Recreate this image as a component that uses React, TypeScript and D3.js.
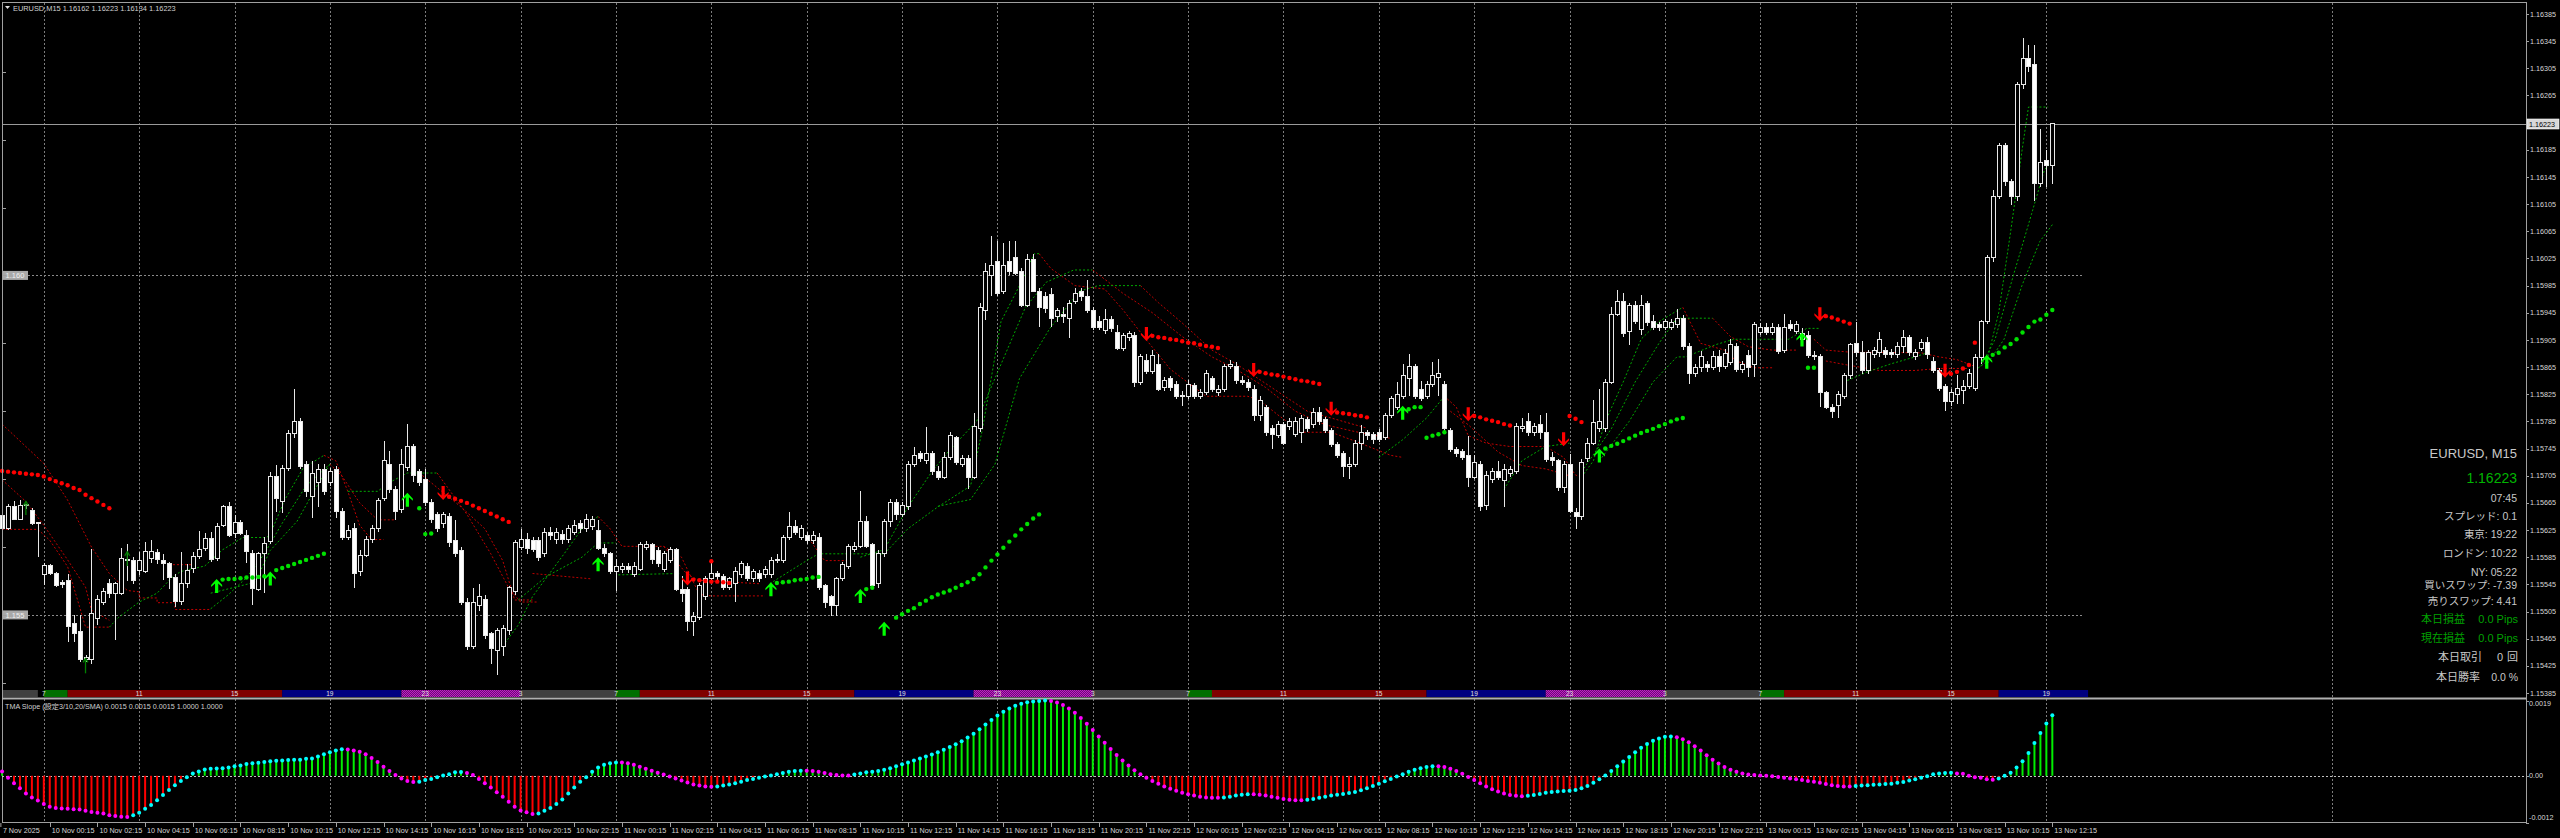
import React from "react";
import * as d3 from "d3";

// prices are kept in points above 1.15000 (1 point = 0.00001)
// bar index 0 = 10 Nov 2025 00:00, M15
type Bar = [number, number, number, number]; // open, high, low, close

const friBars: Bar[] = [
  [647,650,625,627],[627,664,625,659],[660,668,640,641],[641,669,640,661],[661,664,656,662],[654,658,633,635],[636,637,586,635],
];

const mon10Bars: Bar[] = [
  [560,576,544,573],[573,575,559,561],[561,563,541,543],[548,551,540,545],[550,560,460,483],[487,500,460,473],[475,500,430,434],[434,441,431,437],
  [434,597,428,502],[495,530,485,523],[519,540,515,535],[546,553,525,532],[531,548,463,546],[532,598,530,583],[582,605,550,580],[580,586,546,551],
  [566,593,559,580],[564,608,561,593],[583,610,576,593],[592,597,575,581],[580,590,551,575],[576,578,538,555],[555,560,512,520],[520,593,515,546],
  [546,575,540,566],[568,592,562,586],[586,623,582,596],[598,620,594,613],[613,622,578,581],[583,635,580,630],[632,662,630,659],[659,667,615,617],
  [620,647,613,636],[636,640,618,620],[617,625,576,593],[590,595,515,539],[537,592,535,590],[590,615,532,605],[608,711,605,704],[704,721,652,672],
  [667,721,650,716],[716,772,712,767],[767,833,760,785],[785,790,715,719],[722,727,674,682],[674,727,642,709],[695,722,659,714],[714,722,676,682],
  [695,716,690,711],[714,719,643,653],[653,658,611,614],[614,632,610,624],[627,635,540,561],[564,595,558,588],[588,616,585,611],[611,632,606,627],
  [627,672,622,669],[672,756,668,727],[722,742,680,685],[685,690,640,653],[655,745,650,722],[717,781,712,748],[748,751,696,706],[711,715,690,695],
  [700,715,660,665],[665,670,635,640],[648,652,622,627],[635,652,628,648],[645,650,600,606],[610,640,585,590],[595,600,515,519],[519,525,448,454],
  [454,540,450,519],[514,545,506,527],[522,530,465,469],[472,475,427,451],[448,480,411,477],[454,485,440,480],[477,542,470,540],[535,610,530,606],
  [600,627,596,611],[611,620,590,598],[609,615,592,596],[609,615,580,585],[590,628,586,622],[622,630,610,617],[611,628,605,622],[619,625,605,611],
  [611,633,606,627],[622,640,618,632],[635,640,620,627],[627,648,622,640],[630,646,625,640],[624,640,595,598],[598,605,585,590],[590,592,560,564],
];

const tue11Bars: Bar[] = [
  [564,582,535,572],[567,577,562,572],[572,577,562,567],[559,578,556,572],[567,607,564,603],[600,609,595,604],[604,606,575,582],[595,600,570,575],
  [567,594,563,590],[580,600,577,596],[596,598,535,538],[538,558,519,532],[538,541,477,490],[490,505,469,498],[496,547,492,543],[527,557,522,553],
  [553,580,550,561],[561,565,552,556],[556,560,536,540],[540,556,536,553],[546,571,519,564],[559,580,555,575],[572,577,550,553],[553,568,548,564],
  [561,566,548,553],[559,572,554,567],[559,585,555,580],[582,590,576,580],[580,618,576,614],[614,651,610,630],[630,640,618,622],[614,632,610,627],
  [617,622,605,609],[609,624,604,617],[614,620,536,540],[543,546,510,519],[527,530,498,514],[514,556,498,553],[553,578,550,574],[572,605,568,601],
  [596,608,592,601],[601,682,598,637],[637,645,598,601],[603,606,538,543],[546,595,540,590],[590,641,585,637],[637,671,630,666],[666,670,640,648],
  [648,667,644,661],[659,726,655,722],[722,748,718,735],[737,742,725,730],[727,777,722,737],[737,742,706,711],[711,720,698,703],[703,740,700,732],
  [732,769,728,764],[761,764,721,724],[722,735,718,730],[730,735,685,703],[703,798,700,777],[774,960,770,953],[948,1019,935,1006],[1000,1058,970,1014],
  [1021,1050,970,974],[976,1048,972,1014],[1021,1050,1000,1006],[1027,1050,1000,1003],[1006,1011,953,956],[956,1032,953,1024],[1024,1032,975,977],[977,982,924,953],
  [969,975,945,951],[972,982,924,937],[940,952,932,948],[942,953,930,940],[937,964,908,958],[961,982,958,974],[977,982,962,969],[969,993,945,948],
  [948,953,919,924],[932,940,920,924],[919,950,914,935],[935,940,916,922],[916,927,890,893],[893,915,888,911],[908,918,903,914],[911,916,835,843],
  [843,885,838,880],[874,885,855,858],[858,890,855,882],[869,885,830,832],[835,850,830,845],[848,852,830,835],[840,845,818,822],[823,830,808,822],
];

const wed12Bars: Bar[] = [
  [822,846,818,840],[838,842,818,822],[822,832,818,827],[827,860,824,856],[848,852,828,832],[827,838,823,832],[832,870,828,866],[866,875,862,869],
  [866,872,840,845],[845,852,838,843],[843,848,830,835],[832,838,785,793],[793,822,785,816],[806,809,764,769],[774,780,745,766],[764,785,760,780],
  [780,784,750,753],[777,790,773,785],[766,792,762,785],[769,795,753,790],[788,792,770,774],[780,805,776,798],[798,806,780,785],[788,792,768,772],
  [772,776,748,751],[751,755,731,735],[737,742,703,719],[719,732,700,722],[722,758,718,753],[753,780,743,769],[769,772,758,764],[766,770,752,759],
  [769,774,754,759],[761,798,757,793],[793,822,790,819],[806,843,802,824],[822,869,818,853],[848,885,822,866],[866,870,818,822],[832,845,815,819],
  [822,845,818,840],[840,872,835,853],[850,877,822,856],[840,845,769,774],[772,775,740,743],[743,748,733,738],[740,744,728,732],[735,764,688,703],
  [703,735,700,725],[722,727,653,659],[661,712,655,706],[700,716,695,711],[711,727,698,703],[698,722,659,714],[708,720,703,714],[711,782,708,777],
  [774,790,770,777],[785,798,764,769],[769,783,763,777],[780,795,759,769],[769,798,725,729],[732,740,720,727],[727,730,682,688],[688,727,680,722],
  [722,737,650,653],[651,657,627,645],[645,730,640,724],[730,761,725,753],[753,816,750,783],[775,832,770,785],[774,848,770,843],[843,953,840,943],
  [943,979,940,961],[961,974,910,914],[917,960,898,956],[956,962,928,932],[920,971,912,956],[958,962,925,930],[932,942,920,924],[927,932,918,924],
  [924,936,920,932],[924,936,920,930],[927,950,922,937],[937,942,890,895],[895,900,840,856],[856,870,850,864],[864,888,858,880],[869,874,858,864],
  [864,888,860,880],[880,890,858,866],[866,892,862,885],[872,906,868,898],[895,900,858,861],[861,874,856,869],[882,890,850,864],[869,932,850,927],
];

const thu13Bars: Bar[] = [
  [916,930,912,924],[924,930,912,916],[916,930,912,924],[924,928,885,888],[890,943,886,924],[927,935,918,922],[918,933,914,927],[906,922,902,914],
  [911,918,878,882],[880,888,875,882],[880,885,806,827],[827,830,803,806],[806,810,790,800],[808,830,790,824],[822,856,818,853],[853,900,848,898],
  [899,932,880,886],[886,903,855,860],[860,890,855,886],[883,895,878,889],[886,916,880,906],[889,895,878,883],[886,892,878,883],[883,902,878,896],
  [896,919,886,909],[908,912,882,886],[880,892,875,886],[893,906,888,901],[901,910,877,883],[873,880,856,860],[860,863,830,834],[837,840,801,814],
  [814,832,808,827],[824,853,810,834],[830,846,810,837],[837,862,832,856],[834,885,830,879],[879,935,870,932],[932,1030,928,1027],[1027,1126,1020,1116],
  [1116,1195,1113,1192],[1192,1195,1132,1139],[1139,1142,1103,1116],[1116,1285,1110,1281],[1281,1350,1275,1320],[1320,1340,1300,1307],[1310,1340,1110,1136],[1136,1215,1130,1166],
  [1169,1185,1130,1162],[1162,1223,1134,1223],
];

// TMA slope, in units of 0.0001
const friSlope = [1.1,-0.5,-1.9,-3.2,-4.5,-5.5,-6.3];
const mon10Slope = [
  -7.2,-7.9,-8.2,-8.3,-8.4,-8.5,-8.6,-8.9,-9.2,-9.4,
  -9.6,-10.0,-10.2,-10.4,-10.5,-10.0,-9.4,-8.4,-7.4,-6.2,
  -4.9,-3.6,-2.4,-1.3,-0.4,0.6,1.1,1.6,1.8,1.85,
  1.9,2.1,2.4,2.6,3.0,3.2,3.3,3.5,3.7,3.8,
  3.9,4.0,4.05,4.1,4.3,4.4,4.9,5.5,6.0,6.4,
  6.75,6.7,6.4,6.1,5.5,4.5,3.5,2.3,1.2,0.2,
  -0.7,-1.3,-1.6,-1.5,-1.1,-0.8,-0.4,0.1,0.4,0.9,
  0.95,0.7,0.2,-0.8,-1.9,-3.0,-4.2,-5.3,-6.6,-7.9,
  -8.8,-9.3,-9.7,-9.6,-8.9,-8.2,-7.2,-6.0,-4.5,-3.0,
  -1.5,-0.4,1.0,2.1,2.8,3.2,
];
const tue11Slope = [
  3.4,3.4,3.2,2.8,2.3,1.8,1.3,0.8,0.3,-0.2,
  -0.7,-1.2,-1.7,-2.2,-2.5,-2.7,-2.8,-2.7,-2.5,-2.2,
  -1.9,-1.5,-1.1,-0.8,-0.5,-0.2,0.1,0.4,0.7,1.0,
  1.2,1.3,1.3,1.2,1.0,0.7,0.4,0.2,0.1,0.1,
  0.3,0.6,0.9,1.0,1.2,1.5,1.9,2.4,2.9,3.4,
  3.9,4.4,4.9,5.4,6.0,6.6,7.3,8.0,8.8,9.7,
  10.7,11.8,13.0,14.2,15.3,16.3,17.1,17.8,18.3,18.7,
  18.9,19.0,19.1,19.0,18.6,18.0,17.1,16.0,14.7,13.2,
  11.6,10.0,8.4,6.8,5.3,3.9,2.6,1.4,0.4,-0.5,
  -1.3,-2.0,-2.7,-3.3,-3.8,-4.3,
];
const wed12Slope = [
  -4.7,-5.0,-5.3,-5.5,-5.6,-5.6,-5.5,-5.3,-5.0,-4.8,
  -4.7,-4.7,-4.8,-5.0,-5.3,-5.6,-5.9,-6.1,-6.2,-6.2,
  -6.1,-5.9,-5.6,-5.3,-5.0,-4.8,-4.6,-4.4,-4.1,-3.7,
  -3.2,-2.6,-2.0,-1.4,-0.8,-0.2,0.4,1.0,1.5,1.9,
  2.2,2.4,2.4,2.2,1.8,1.2,0.5,-0.3,-1.1,-1.9,
  -2.7,-3.4,-4.0,-4.5,-4.9,-5.1,-5.2,-5.1,-4.9,-4.6,
  -4.3,-4.1,-4.0,-3.9,-3.8,-3.6,-3.2,-2.6,-1.8,-0.9,
  0.1,1.2,2.4,3.6,4.8,6.0,7.1,8.1,8.9,9.5,
  9.9,10.0,9.8,9.3,8.5,7.5,6.4,5.2,4.1,3.1,
  2.2,1.5,1.0,0.6,0.3,0.2,
];
const thu13Slope = [
  0.1,0.0,-0.1,-0.3,-0.5,-0.7,-0.9,-1.1,-1.3,-1.5,
  -1.8,-2.1,-2.4,-2.6,-2.7,-2.7,-2.6,-2.5,-2.4,-2.3,
  -2.2,-2.1,-2.0,-1.8,-1.6,-1.2,-0.9,-0.5,-0.1,0.4,
  0.6,0.7,0.75,0.6,0.5,0.0,-0.4,-0.5,-0.9,-1.0,
  -0.7,0.0,0.8,2.1,3.7,5.8,8.3,10.9,13.3,15.4,
];

// thin dashed trailing lines: [bar index, points]
const redTrails: [number, number][][] = [
  [[-7,781],[0,723],[4,669],[8,600],[11,561],[14,536],[16,534],[16,525],[19,525],[19,518],[22,518],[22,508],[28,508]],
  [[-7,699],[-3,667],[0,632],[4,581],[7,541],[8,507],[11,492]],
  [[-7,626],[-1,626],[1,610],[4,571],[6,512],[7,482],[11,482]],
  [[21,574],[25,574]],
  [[47,735],[49,727],[51,682],[53,632],[55,611],[57,611]],
  [[48,722],[50,705],[53,665],[56,640],[59,640]],
  [[63,709],[70,659],[74,627],[77,580],[79,522],[82,522]],
  [[66,709],[71,648],[75,590],[78,540],[80,519],[83,519]],
  [[82,561],[92,553]],
  [[93,645],[95,627],[97,601],[104,601],[107,585],[110,530],[112,528],[121,528]],
  [[104,601],[108,559],[110,551],[120,546]],
  [[128,617],[131,580],[135,580]],
  [[167,1032],[169,1010],[173,985],[178,980],[181,950],[185,905],[189,862],[195,822],[202,822],[204,816],[207,795],[211,769],[216,769],[220,756],[226,735],[228,732]],
  [[176,1008],[181,974],[186,945],[191,910],[196,880],[200,862],[205,835],[210,800],[215,780],[220,770],[226,760]],
  [[184,985],[187,960],[191,930],[196,890],[200,870],[206,835],[212,800],[218,785],[222,775]],
  [[235,822],[237,806],[239,764],[242,753],[246,748],[252,748],[255,732],[257,706],[258,703]],
  [[236,800],[239,780],[244,740],[248,720],[252,715],[256,705]],
  [[275,953],[278,900],[282,890],[284,874],[287,864],[290,864]],
  [[280,937],[283,910],[286,895],[290,890],[294,890]],
  [[297,906],[299,890],[303,887],[315,886],[318,880],[321,876],[324,866]],
  [[299,874],[302,869],[308,860],[314,860],[318,863],[323,863]],
];
const greenTrails: [number, number][][] = [
  [[11,482],[12.5,496],[16,519],[19,532],[21.6,556],[23,564],[27,572],[30,596],[33.4,614],[37.4,614],[38,619],[40.4,669],[43.5,716],[47,735]],
  [[28,509],[31,530],[34,555],[37,590],[40,635],[44,690],[48,722]],
  [[28,532],[35.4,548],[38,595],[42.5,638],[45.5,685],[48,722]],
  [[51,682],[56,682],[58,695],[61,709],[66,709]],
  [[77,454],[79.6,485],[82,527],[87.3,590],[90.3,627],[93,645]],
  [[79.6,522],[84.2,556],[90.3,585],[93,606],[96,606]],
  [[96.4,559],[106.6,561]],
  [[121.8,546],[128,580],[130,590],[141,590]],
  [[137,585],[141,596],[145,659],[149,711],[152,743],[156.5,785],[160.6,869],[164.7,953],[168.2,990],[172.8,1008],[175.9,1008]],
  [[141,590],[145,627],[150,659],[155.5,690],[157.5,774],[160.6,932],[163.7,985],[166.2,1032],[167.2,1032]],
  [[150,660],[155.5,670],[159.6,722],[163.7,848],[168.8,922],[173.8,977],[176.9,985],[184,985]],
  [[224,732],[228,758],[232,790],[235,822]],
  [[245,685],[248,727],[252,748],[256,753]],
  [[258,703],[260,727],[262,785],[265,843],[268,906],[271,932],[275,953]],
  [[258,711],[263,774],[267,843],[271,900],[274,937],[280,937]],
  [[261,727],[266,785],[270,843],[274,880],[275.5,880],[280.5,898],[283.6,906],[292.8,906],[295.8,922],[297.9,922]],
  [[302,843],[306,858],[310,870],[314,880],[316,886]],
  [[324,860],[326,873],[328,945],[330,1064],[332,1189],[333,1248],[336.3,1248]],
  [[325,866],[327.4,906],[330.4,998],[333.5,1090],[335.7,1156],[337.2,1169]],
  [[325.8,866],[328.9,906],[331.9,985],[334.9,1050],[337.2,1077]],
];

// signal dot runs: [first bar, values]
const redDots: [number, number[]][] = [
  [-7, [712,711,710,709,708,707,706,704,700,697,694,691,687,684,677,672,667,662,657]],
  [68, [674,671,668,665,661,657,653,649,645,641,637]],
  [109, [552,551,550,549,549,548,547]],
  [112, [579]],
  [186, [911,909,908,906,905,903,901,900,898,896,895,893]],
  [204, [858,856,854,853,851,849,847,845,844,842,840]],
  [217, [798,797,796,794,793,791]],
  [240, [793,791,788,786,784,781,779]],
  [256, [793,789,784]],
  [299, [940,938,935,932,929]],
  [320, [855,858,863,868]],
  [324, [901]],
];
const greenDots: [number, number[]][] = [
  [30, [552,553,553,554,555,555,556,557]],
  [39, [566,569,572,575,578,581,584,587,590]],
  [63, [657]],
  [64, [619,620]],
  [123, [547,548,549,551,552,553,555,556]],
  [138, [538,540]],
  [143, [496,501,506,510,516,521,526,530,533,536,540,544,548,553,560,570,580,589,599,608,617,626,634,642,648]],
  [229, [803,806,806]],
  [232, [761,764,766,769]],
  [262, [745,749,752,756,760,764,768,771,774,778,781,785,788,790]],
  [296, [864,864]],
  [327, [883,886,894,899,906,916,924,932,935,942,949]],
];

const upSignals: [number, number][] = [[29,553],[38,564],[61,680],[93,585],[122,548],[137,538],[141,490],[228,808],[261,745],[295,916],[326,883]];
const downSignals: [number, number][] = [[67,690],[108,564],[185,924],[203,871],[216,814],[239,806],[255,769],[298,953],[319,870]];
const smallUpArrows: [number, number, number][] = [[-3,667,647],[7,436,414],[14,593,572]];

const priceTicks = ["1.16385","1.16345","1.16305","1.16265","1.16225","1.16185","1.16145","1.16105","1.16065","1.16025","1.15985","1.15945","1.15905","1.15865","1.15825","1.15785","1.15745","1.15705","1.15665","1.15625","1.15585","1.15545","1.15505","1.15465","1.15425","1.15385"];
const levelLines = [{ p: 1000, label: "1.160" }, { p: 500, label: "1.155" }];
const minorLevels = [400, 500, 600, 700, 800, 900, 1000, 1100, 1200, 1300];

const SES_GREEN = "#006f00", SES_RED = "#800000", SES_BLUE = "#000080", SES_GRAY = "#404040";
const sessions: [number, number, string][] = [
  [-7.3, -1, SES_GRAY],
  [0, 4, SES_GREEN], [4, 40, SES_RED], [40, 60, SES_BLUE], [60, 80, "url(#hatch)"], [80, 96, SES_GRAY],
  [96, 100, SES_GREEN], [100, 136, SES_RED], [136, 156, SES_BLUE], [156, 176, "url(#hatch)"], [176, 192, SES_GRAY],
  [192, 196, SES_GREEN], [196, 232, SES_RED], [232, 252, SES_BLUE], [252, 272, "url(#hatch)"], [272, 288, SES_GRAY],
  [288, 292, SES_GREEN], [292, 328, SES_RED], [328, 343, SES_BLUE],
];
const sessionHours = ["7", "11", "15", "19", "23", "3"];
const gridBars = [0,16,32,48,64,80,96,112,128,144,160,176,192,208,224,240,256,272,288,304,320,336,384];

const infoLines = [
  { t: "EURUSD, M15", y: 458, s: 13, c: "#c8c8c8" },
  { t: "1.16223", y: 483, s: 14, c: "#00b400" },
  { t: "07:45", y: 502, s: 10.5, c: "#c8c8c8" },
  { t: "スプレッド: 0.1", y: 520, s: 10.5, c: "#c8c8c8" },
  { t: "東京: 19:22", y: 538, s: 10.5, c: "#c8c8c8" },
  { t: "ロンドン: 10:22", y: 557, s: 10.5, c: "#c8c8c8" },
  { t: "NY: 05:22", y: 576, s: 10.5, c: "#c8c8c8" },
  { t: "買いスワップ: -7.39", y: 589, s: 10.5, c: "#c8c8c8" },
  { t: "売りスワップ: 4.41", y: 605, s: 10.5, c: "#c8c8c8" },
];

const FONT = "'Liberation Sans', 'Noto Sans CJK JP', sans-serif";

function withIndex(days: Bar[][]) {
  return days.flat().map((b, k) => ({ i: k - 7, o: b[0], h: b[1], l: b[2], c: b[3] }));
}

export default function App() {
  const bars = withIndex([friBars, mon10Bars, tue11Bars, wed12Bars, thu13Bars]);
  const slope = [...friSlope, ...mon10Slope, ...tue11Slope, ...wed12Slope, ...thu13Slope].map((v, k) => ({ i: k - 7, v: v / 10000 }));

  const x = d3.scaleLinear().domain([0, 336]).range([43.8, 43.8 + 5.96 * 336]);
  const y = d3.scaleLinear().domain([385, 1385]).range([693, 14]);
  const yi = d3.scaleLinear().domain([-0.0012, 0.0019]).range([823, 701]);
  const line = d3.line<[number, number]>().x((d) => x(d[0])).y((d) => y(d[1]));

  const t0 = new Date(2025, 10, 10, 0, 0);
  const fmt = d3.timeFormat("%-d %b %H:%M");
  const timeTicks = d3.range(43).map((k) => {
    const i = 1 + 8 * k;
    return { i, label: fmt(d3.timeMinute.offset(t0, 15 * i)) };
  });

  const right = 2526;
  const bidY = y(1223);

  return (
    <svg width={2560} height={838} style={{ position: "absolute", left: 0, top: 0, background: "#000" }} fontFamily={FONT}>
      <defs>
        <pattern id="hatch" width={2} height={2} patternUnits="userSpaceOnUse">
          <rect width={2} height={2} fill="#6a0a78" />
          <rect width={1} height={1} fill="#c020c0" />
          <rect x={1} y={1} width={1} height={1} fill="#c020c0" />
        </pattern>
      </defs>
      <rect width={2560} height={838} fill="#000" />

      {/* vertical grid */}
      {gridBars.map((g) => (
        <line key={"g" + g} x1={Math.round(x(g)) + 0.5} x2={Math.round(x(g)) + 0.5} y1={3} y2={822} stroke="#7c7c7c" strokeDasharray="2,2" />
      ))}

      {/* round level lines */}
      {levelLines.map((lv) => (
        <g key={lv.label}>
          <line x1={28} x2={2082} y1={Math.round(y(lv.p)) + 0.5} y2={Math.round(y(lv.p)) + 0.5} stroke="#8a8a8a" strokeDasharray="2,2" />
          <rect x={2} y={y(lv.p) - 4.5} width={26} height={9} fill="#a8a8a8" />
          <text x={15} y={y(lv.p) + 2.8} fontSize={7.5} fill="#f0f0f0" textAnchor="middle">{lv.label}</text>
        </g>
      ))}
      {minorLevels.map((p) => (
        <line key={"m" + p} x1={2} x2={6} y1={Math.round(y(p)) + 0.5} y2={Math.round(y(p)) + 0.5} stroke="#a0a0a0" />
      ))}

      {/* bid line */}
      <line x1={2} x2={right} y1={Math.round(bidY) + 0.5} y2={Math.round(bidY) + 0.5} stroke="#9a9a9a" />

      {/* trailing lines */}
      {redTrails.map((s, k) => (
        <path key={"rt" + k} d={line(s) || ""} fill="none" stroke="#c00000" strokeWidth={1} strokeDasharray="2,2" />
      ))}
      {greenTrails.map((s, k) => (
        <path key={"gt" + k} d={line(s) || ""} fill="none" stroke="#00a800" strokeWidth={1} strokeDasharray="2,2" />
      ))}

      {/* candles */}
      <g shapeRendering="crispEdges">
        {bars.map((b) => {
          const cx = Math.round(x(b.i));
          const top = y(Math.max(b.o, b.c));
          const bot = y(Math.min(b.o, b.c));
          const bull = b.c >= b.o;
          return (
            <g key={"b" + b.i}>
              <line x1={cx + 0.5} x2={cx + 0.5} y1={y(b.h)} y2={y(b.l)} stroke="#e8e8e8" />
              <rect x={cx - 1.5} y={top} width={4} height={Math.max(1, bot - top)} fill={bull ? "#000" : "#ffffff"} stroke="#e8e8e8" strokeWidth={1} />
            </g>
          );
        })}
      </g>

      {/* signal dots */}
      {redDots.map(([s, vals]) => vals.map((v, k) => <circle key={`rd${s}-${k}`} cx={x(s + k)} cy={y(v)} r={2.2} fill="#ff0000" />))}
      {greenDots.map(([s, vals]) => vals.map((v, k) => <circle key={`gd${s}-${k}`} cx={x(s + k)} cy={y(v)} r={2.2} fill="#00e000" />))}

      {/* arrows */}
      {upSignals.map(([i, p]) => {
        const cx = x(i), t = y(p);
        return <path key={"ua" + i} d={`M${cx},${t} L${cx + 5.5},${t + 6} L${cx + 5.5},${t + 8} L${cx + 1.6},${t + 4.5} L${cx + 1.6},${t + 14} L${cx - 1.6},${t + 14} L${cx - 1.6},${t + 4.5} L${cx - 5.5},${t + 8} L${cx - 5.5},${t + 6} Z`} fill="#00ff00" />;
      })}
      {downSignals.map(([i, p]) => {
        const cx = x(i), t = y(p), b = t + 14;
        return <path key={"da" + i} d={`M${cx},${b} L${cx + 5.5},${b - 6} L${cx + 5.5},${b - 8} L${cx + 1.6},${b - 4.5} L${cx + 1.6},${t} L${cx - 1.6},${t} L${cx - 1.6},${b - 4.5} L${cx - 5.5},${b - 8} L${cx - 5.5},${b - 6} Z`} fill="#ff0000" />;
      })}
      {smallUpArrows.map(([i, pt, pb]) => {
        const cx = x(i), t = y(pt), b = y(pb);
        return (
          <g key={"sa" + i} stroke="#008000" strokeWidth={1.3} fill="none">
            <line x1={cx} x2={cx} y1={t} y2={b} />
            <path d={`M${cx - 2.5},${t + 4} L${cx},${t} L${cx + 2.5},${t + 4}`} />
          </g>
        );
      })}

      {/* session bar */}
      {sessions.map(([a, b, c], k) => (
        <rect key={"s" + k} x={Math.max(2, x(a))} y={690} width={x(b) - Math.max(2, x(a))} height={7} fill={c} />
      ))}
      {gridBars.filter((g) => g <= 336).map((g, k) => (
        <text key={"sl" + g} x={x(g)} y={696} fontSize={6.5} fill="#e0e0e0" textAnchor="middle">{sessionHours[k % 6]}</text>
      ))}

      {/* frames */}
      <line x1={2} x2={right} y1={2.5} y2={2.5} stroke="#a0a0a0" />
      <line x1={2.5} x2={2.5} y1={2} y2={822} stroke="#a0a0a0" />
      <line x1={right + 0.5} x2={right + 0.5} y1={2} y2={823} stroke="#a0a0a0" />
      <rect x={2} y={697.5} width={right - 2} height={2} fill="#b0b0b0" />
      <line x1={2} x2={right} y1={822.5} y2={822.5} stroke="#a0a0a0" />

      {/* header */}
      <path d="M5,6 L10,6 L7.5,9 Z" fill="#e0e0e0" />
      <text x={13} y={10.5} fontSize={7.4} fill="#d0d0d0">EURUSD,M15  1.16162 1.16223 1.16134 1.16223</text>

      {/* price axis */}
      {priceTicks.map((t) => {
        const p = (+t - 1.15) * 100000;
        const py = y(p);
        return (
          <g key={t}>
            <line x1={right} x2={right + 3} y1={Math.round(py) + 0.5} y2={Math.round(py) + 0.5} stroke="#a0a0a0" />
            <text x={right + 4} y={py + 2.6} fontSize={7.2} fill="#d8d8d8">{t}</text>
          </g>
        );
      })}
      <rect x={right + 1} y={bidY - 5} width={32} height={10} fill="#d8d8d8" stroke="#ffffff" strokeWidth={0.6} />
      <text x={right + 3} y={bidY + 2.6} fontSize={7.2} fill="#000">1.16223</text>

      {/* info panel */}
      {infoLines.map((l) => (
        <text key={l.t} x={2517} y={l.y} fontSize={l.s} fill={l.c} textAnchor="end">{l.t}</text>
      ))}
      <text x={2421} y={623} fontSize={11} fill="#00a000">本日損益</text>
      <text x={2518} y={623} fontSize={11} fill="#00a000" textAnchor="end">0.0 Pips</text>
      <text x={2421} y={642} fontSize={11} fill="#00a000">現在損益</text>
      <text x={2518} y={642} fontSize={11} fill="#00a000" textAnchor="end">0.0 Pips</text>
      <text x={2438} y={661} fontSize={11} fill="#c8c8c8">本日取引</text>
      <text x={2497} y={661} fontSize={11} fill="#c8c8c8">0</text>
      <text x={2507} y={661} fontSize={11} fill="#c8c8c8">回</text>
      <text x={2436} y={681} fontSize={11} fill="#c8c8c8">本日勝率</text>
      <text x={2518} y={681} fontSize={10.5} fill="#c8c8c8" textAnchor="end">0.0 %</text>

      {/* indicator panel */}
      <text x={5} y={709} fontSize={7.2} fill="#d0d0d0">TMA Slope (設定3/10,20/SMA) 0.0015 0.0015 0.0015 1.0000 1.0000</text>
      <line x1={2} x2={right} y1={Math.round(yi(0)) + 0.5} y2={Math.round(yi(0)) + 0.5} stroke="#c0c0c0" strokeDasharray="2,2" />
      {slope.map((d) => (
        <line key={"h" + d.i} x1={x(d.i)} x2={x(d.i)} y1={yi(0)} y2={yi(d.v)} stroke={d.v >= 0 ? "#00ee00" : "#ff0000"} strokeWidth={2} />
      ))}
      {slope.map((d, k) => (
        <circle key={"hd" + d.i} cx={x(d.i)} cy={yi(d.v)} r={2} fill={k > 0 && d.v > slope[k - 1].v ? "#00ffff" : "#ff00ff"} />
      ))}
      {[0.0019, 0, -0.0012].map((v) => (
        <g key={"iv" + v}>
          <line x1={right} x2={right + 3} y1={Math.round(yi(v)) + 0.5} y2={Math.round(yi(v)) + 0.5} stroke="#a0a0a0" />
          <text x={right + 3} y={yi(v) + (v === 0.0019 ? 5 : v === 0 ? 2.6 : -3)} fontSize={7.2} fill="#d8d8d8">
            {v === 0 ? "0.00" : v.toFixed(4)}
          </text>
        </g>
      ))}

      {/* time axis */}
      <line x1={x(-7.2)} x2={x(-7.2)} y1={823} y2={827} stroke="#a0a0a0" />
      <text x={x(-7.2) + 2} y={833} fontSize={7.2} fill="#d8d8d8">7 Nov 2025</text>
      {timeTicks.map((t) => (
        <g key={"tt" + t.i}>
          <line x1={Math.round(x(t.i)) + 0.5} x2={Math.round(x(t.i)) + 0.5} y1={823} y2={827} stroke="#a0a0a0" />
          <text x={x(t.i) + 2} y={833} fontSize={7.2} fill="#d8d8d8">{t.label}</text>
        </g>
      ))}
    </svg>
  );
}
